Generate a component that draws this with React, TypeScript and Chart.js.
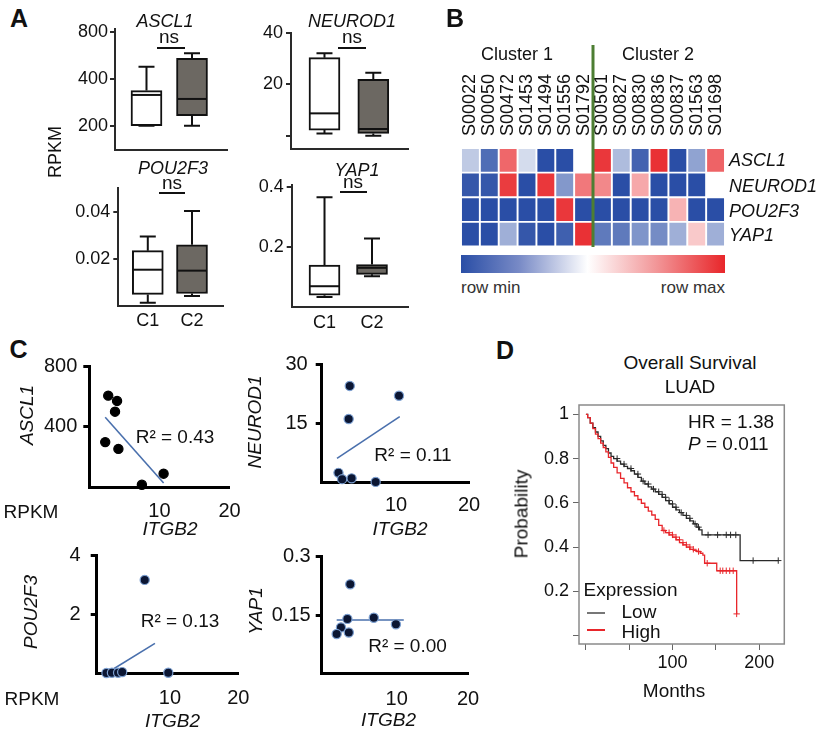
import React, { useEffect, useRef } from "react";
import { Chart, registerables } from "chart.js";
Chart.register(...registerables);

const FONT = "'Liberation Sans', Arial, Helvetica, sans-serif";
Chart.defaults.font.family = FONT;
Chart.defaults.color = "#111";

// ---------------- Panel A: box plots ([min, q1, median, q3, max]) ----------------
const groupLabels = ["C1", "C2"];
const ascl1Box = [[200, 200, 315, 336, 478], [200, 232, 297, 541, 582]];
const neurod1Box = [[0.9, 2.2, 8.7, 30.4, 32.1], [0, 0.9, 2.6, 22, 24.5]];
const pou2f3Box = [[0.0013, 0.0048, 0.0153, 0.0234, 0.0294], [0.0041, 0.0052, 0.0149, 0.0259, 0.0403]];
const yap1Box = [[0.031, 0.037, 0.067, 0.138, 0.367], [0.101, 0.107, 0.129, 0.14, 0.228]];
const ascl1BoxTicks = [200, 400, 800];
const neurod1BoxTicks = [0, 20, 40];
const pou2f3BoxTicks = [0.02, 0.04];
const yap1BoxTicks = [0.2, 0.4];
const boxFills = ["#ffffff", "#6c6862"];

// ---------------- Panel B: heatmap (row-scaled, -1 = row min, 1 = row max) ----------------
const samples = ["S00022", "S00050", "S00472", "S01453", "S01494", "S01556", "S01792", "S00501", "S00827", "S00830", "S00836", "S00837", "S01563", "S01698"];
const genes = ["ASCL1", "NEUROD1", "POU2F3", "YAP1"];
const heatASCL1 = [-0.3, -0.82, 0.7, -0.2, -1, -1, 0, 0.92, -0.38, -0.88, 0.95, -1, -0.52, 0.72];
const heatNEUROD1 = [-0.95, -0.95, 0.9, -1, 0.92, -0.58, 0.62, 0.55, -1, 0.4, -1, -1, -1, 0];
const heatPOU2F3 = [-1, -1, -1, -1, -1, 0.92, -1, -1, -1, -1, -1, 0.35, -1, -1];
const heatYAP1 = [-1, -1, -0.45, -0.95, -1, -0.9, 0.95, -0.75, -0.75, -0.6, -0.65, -0.45, 0.25, -0.45];

// ---------------- Panel C: scatter (ITGB2 vs gene RPKM) ----------------
const ascl1ItgB2 = [2.7, 3.96, 3.67, 2.27, 4.15, 7.5, 10.6];
const ascl1Rpkm = [604, 569, 498, 297, 252, 15, 88];
const ascl1FitX = [2.27, 10.6];
const ascl1FitY = [461, 26];

const neurod1ItgB2 = [3.65, 10.4, 3.5, 2.1, 2.6, 3.9, 7.2];
const neurod1Rpkm = [24.5, 22, 16.1, 2.4, 0.8, 1.0, 0.1];
const neurod1FitX = [1.9, 10.5];
const neurod1FitY = [6.1, 16.7];

const pou2f3ItgB2 = [6.3, 0.7, 1.5, 2.4, 3.0, 9.75];
const pou2f3Rpkm = [3.16, 0.02, 0.03, 0.03, 0.05, 0.03];
const pou2f3FitX = [0.7, 7.8];
const pou2f3FitY = [0.01, 1.02];

const yap1ItgB2 = [3.5, 3.1, 6.8, 9.9, 2.2, 1.6, 3.3];
const yap1Rpkm = [0.229, 0.14, 0.143, 0.126, 0.118, 0.101, 0.105];
const yap1FitX = [1.6, 11.0];
const yap1FitY = [0.137, 0.137];

const ascl1SctTicks = [400, 800];
const neurod1SctTicks = [15, 30];
const pou2f3SctTicks = [2, 4];
const yap1SctTicks = [0.15, 0.3];
const itgb2Ticks = [10, 20];

// ---------------- Panel D: Kaplan-Meier (months, probability) ----------------
const lowMonths = [0, 2, 5, 8, 11, 14, 17, 20, 23, 26, 29, 32, 36, 40, 44, 48, 52, 56, 60, 64, 68, 72, 76, 80, 84, 88, 92, 96, 100, 104, 108, 112, 116, 120, 124, 128, 131, 134, 178, 222];
const lowProb = [1, 0.985, 0.96, 0.94, 0.92, 0.9, 0.88, 0.86, 0.845, 0.825, 0.81, 0.8, 0.788, 0.775, 0.765, 0.755, 0.745, 0.73, 0.715, 0.698, 0.685, 0.672, 0.662, 0.65, 0.638, 0.625, 0.61, 0.595, 0.58, 0.568, 0.556, 0.543, 0.53, 0.518, 0.505, 0.49, 0.478, 0.455, 0.339, 0.339];
const highMonths = [0, 2, 5, 8, 11, 14, 17, 20, 23, 26, 29, 32, 36, 40, 44, 48, 52, 56, 60, 64, 68, 72, 76, 80, 84, 88, 92, 96, 100, 104, 108, 112, 116, 120, 124, 128, 132, 135, 137, 151, 174];
const highProb = [1, 0.985, 0.96, 0.935, 0.91, 0.89, 0.87, 0.85, 0.83, 0.805, 0.78, 0.76, 0.735, 0.71, 0.69, 0.668, 0.65, 0.632, 0.615, 0.598, 0.58, 0.562, 0.545, 0.525, 0.498, 0.475, 0.465, 0.455, 0.445, 0.433, 0.42, 0.41, 0.4, 0.39, 0.385, 0.38, 0.372, 0.364, 0.327, 0.293, 0.098];
const lowCensorMonths = [36, 44, 52, 60, 66, 72, 78, 84, 88, 92, 96, 100, 104, 110, 116, 120, 126, 130, 141, 152, 162, 167, 173, 193, 222];
const lowCensorProb = [0.8, 0.775, 0.755, 0.73, 0.698, 0.685, 0.662, 0.65, 0.638, 0.625, 0.61, 0.595, 0.58, 0.556, 0.543, 0.53, 0.505, 0.49, 0.455, 0.455, 0.455, 0.455, 0.455, 0.339, 0.339];
const highCensorMonths = [90, 96, 100, 104, 108, 112, 116, 120, 124, 130, 140, 155, 158, 162, 166, 170, 174];
const highCensorProb = [0.475, 0.465, 0.455, 0.445, 0.433, 0.42, 0.41, 0.4, 0.39, 0.38, 0.327, 0.293, 0.293, 0.293, 0.293, 0.293, 0.098];
const monthTicks = [0, 50, 100, 150, 200];
const probTicks = [0, 0.2, 0.4, 0.6, 0.8, 1];

// ---------------- helpers ----------------
type Rect = { x: number; y: number; w: number; h: number };
type Plot = { l: number; t: number; r: number; b: number };

function frame(rect: Rect, plot: Plot) {
  return { yW: plot.l - rect.x, xH: rect.y + rect.h - plot.b, top: plot.t - rect.y, right: rect.x + rect.w - plot.r, left: plot.l - rect.x, bottom: rect.y + rect.h - plot.b };
}
const zeroPad = (s: any) => { s.paddingLeft = 0; s.paddingRight = 0; s.paddingTop = 0; s.paddingBottom = 0; };
const setTicks = (vals: number[]) => (s: any) => { s.ticks = vals.map((v) => ({ value: v })); };
const zip = (xs: number[], ys: number[]) => xs.map((x, i) => ({ x, y: ys[i] }));

function whiskerPlugin(stats: number[][]) {
  return {
    id: "whiskers",
    beforeDatasetsDraw(chart: any) {
      const { ctx } = chart;
      const xs = chart.scales.x, ys = chart.scales.y;
      ctx.save();
      ctx.strokeStyle = "#111";
      ctx.lineWidth = 2;
      stats.forEach((s, i) => {
        const cx = xs.getPixelForValue(i + 1);
        const p = (v: number) => ys.getPixelForValue(v);
        ctx.beginPath();
        ctx.moveTo(cx, p(s[4])); ctx.lineTo(cx, p(s[3]));
        ctx.moveTo(cx, p(s[1])); ctx.lineTo(cx, p(s[0]));
        ctx.moveTo(cx - 8, p(s[4])); ctx.lineTo(cx + 8, p(s[4]));
        ctx.moveTo(cx - 8, p(s[0])); ctx.lineTo(cx + 8, p(s[0]));
        ctx.stroke();
      });
      ctx.restore();
    },
    afterDatasetsDraw(chart: any) {
      const { ctx } = chart;
      const xs = chart.scales.x, ys = chart.scales.y;
      ctx.save();
      ctx.strokeStyle = "#111";
      ctx.lineWidth = 2;
      stats.forEach((s, i) => {
        const cx = xs.getPixelForValue(i + 1);
        const y = ys.getPixelForValue(s[2]);
        ctx.beginPath();
        ctx.moveTo(cx - 15, y); ctx.lineTo(cx + 15, y);
        ctx.stroke();
      });
      ctx.restore();
    },
  };
}

function boxConfig(rect: Rect, plot: Plot, stats: number[][], yType: string, yMin: number, yMax: number, yTicks: number[], yFmt: (v: number) => string, xMin: number, xMax: number, showX: boolean, yPad: number) {
  const f = frame(rect, plot);
  return {
    type: "bar",
    data: {
      datasets: [{
        data: stats.map((s, i) => ({ x: i + 1, y: [s[1], s[3]] })),
        backgroundColor: boxFills,
        borderColor: "#111",
        borderWidth: 2,
        borderSkipped: false,
        barThickness: 31,
      }],
    },
    options: {
      responsive: false, animation: false, events: [],
      layout: { padding: { top: f.top, right: f.right, left: 0, bottom: 0 } },
      plugins: { legend: { display: false }, tooltip: { enabled: false } },
      scales: {
        x: {
          type: "linear", min: xMin, max: xMax, offset: false,
          afterBuildTicks: setTicks([1, 2]),
          ticks: { display: showX, callback: (v: number) => groupLabels[v - 1] ?? "", font: { size: 18 }, padding: 5, color: "#111" },
          grid: { display: false, drawTicks: false, offset: false },
          border: { display: true, color: "#2a2a2a", width: 2 },
          afterFit: (s: any) => { s.height = f.xH; zeroPad(s); },
        },
        y: {
          type: yType, min: yMin, max: yMax,
          afterBuildTicks: setTicks(yTicks),
          ticks: { callback: yFmt, font: { size: 18 }, padding: yPad, color: "#111" },
          grid: { display: true, drawOnChartArea: false, drawTicks: true, tickLength: 5, color: "#2a2a2a", lineWidth: 2 },
          border: { display: true, color: "#2a2a2a", width: 2 },
          afterFit: (s: any) => { s.width = f.yW; zeroPad(s); },
        },
      },
    },
    plugins: [whiskerPlugin(stats)],
  };
}

function scatterConfig(rect: Rect, plot: Plot, xs: number[], ys: number[], fx: number[], fy: number[], yMax: number, yTicks: number[], xMin: number, xMax: number, dotFill: string, dotBorder: string, yPad: number, xPad: number) {
  const f = frame(rect, plot);
  return {
    type: "scatter",
    data: {
      datasets: [
        { data: zip(xs, ys), pointRadius: 4.6, pointBackgroundColor: dotFill, pointBorderColor: dotBorder, pointBorderWidth: 1.2, clip: false },
        { data: zip(fx, fy), showLine: true, borderColor: "#4a70ad", borderWidth: 1.6, pointRadius: 0, clip: false },
      ],
    },
    options: {
      responsive: false, animation: false, events: [],
      layout: { padding: { top: f.top, right: f.right, left: 0, bottom: 0 } },
      plugins: { legend: { display: false }, tooltip: { enabled: false } },
      scales: {
        x: {
          type: "linear", min: xMin, max: xMax,
          afterBuildTicks: setTicks(itgb2Ticks),
          ticks: { callback: (v: number) => String(v), font: { size: 20 }, padding: xPad, color: "#111" },
          grid: { display: false, drawTicks: false },
          border: { display: true, color: "#000", width: 3 },
          afterFit: (s: any) => { s.height = f.xH; zeroPad(s); },
        },
        y: {
          type: "linear", min: 0, max: yMax,
          afterBuildTicks: setTicks(yTicks),
          ticks: { callback: (v: number) => String(v), font: { size: 20 }, padding: yPad, color: "#111" },
          grid: { display: true, drawOnChartArea: false, drawTicks: true, tickLength: 6, color: "#000", lineWidth: 3 },
          border: { display: true, color: "#000", width: 3 },
          afterFit: (s: any) => { s.width = f.yW; zeroPad(s); },
        },
      },
    },
  };
}

const BLUE = [42, 78, 166];
const RED = [232, 38, 42];
function heatColor(v: number) {
  const c = v < 0 ? BLUE : RED;
  const t = Math.min(1, Math.abs(v));
  const m = (k: number) => Math.round(255 + (c[k] - 255) * t);
  return `rgb(${m(0)},${m(1)},${m(2)})`;
}

function heatConfig(rect: Rect, plot: Plot) {
  const f = frame(rect, plot);
  const rows = [heatASCL1, heatNEUROD1, heatPOU2F3, heatYAP1];
  const bottomFirst = rows.map((r, i) => ({ gene: genes[i], vals: r })).reverse();
  const divider = {
    id: "divider",
    afterDatasetsDraw(chart: any) {
      const { ctx, chartArea } = chart;
      const x = chart.scales.x.getPixelForValue(6.5);
      ctx.save();
      ctx.strokeStyle = "#4d7e33";
      ctx.lineWidth = 3;
      ctx.beginPath();
      ctx.moveTo(x, 5);
      ctx.lineTo(x, chartArea.bottom + 0.5);
      ctx.stroke();
      ctx.restore();
    },
  };
  return {
    type: "bar",
    data: {
      labels: samples,
      datasets: bottomFirst.map((r) => ({
        label: r.gene,
        data: r.vals.map(() => 1),
        backgroundColor: r.vals.map(heatColor),
        borderColor: "#ffffff",
        borderWidth: 1.3,
        borderSkipped: false,
        barPercentage: 1,
        categoryPercentage: 1,
        stack: "h",
      })),
    },
    options: {
      responsive: false, animation: false, events: [],
      layout: { padding: { top: 0, right: f.right, left: f.left, bottom: f.bottom } },
      plugins: { legend: { display: false }, tooltip: { enabled: false } },
      scales: {
        x: {
          position: "top", stacked: true,
          ticks: { autoSkip: false, minRotation: 90, maxRotation: 90, font: { size: 18 }, padding: 12, labelOffset: 21.6, color: "#111" },
          grid: { display: false, drawTicks: false },
          border: { display: false },
          afterFit: (s: any) => { s.height = plot.t - rect.y; zeroPad(s); },
        },
        y: { display: false, stacked: true, min: 0, max: 4 },
      },
    },
    plugins: [divider],
  };
}

function kmConfig(rect: Rect, plot: Plot) {
  const f = frame(rect, plot);
  const boxPlugin = {
    id: "kmBox",
    beforeDatasetsDraw(chart: any) {
      const { ctx, chartArea: a } = chart;
      ctx.save();
      ctx.strokeStyle = "#8a8a8a";
      ctx.lineWidth = 1.5;
      ctx.strokeRect(a.left, a.top, a.right - a.left, a.bottom - a.top);
      ctx.restore();
    },
  };
  const red = "#e8262b", dark = "#2a2a2a";
  return {
    type: "line",
    data: {
      datasets: [
        { data: zip(highCensorMonths, highCensorProb), showLine: false, pointStyle: "cross", pointRadius: 3.2, borderColor: red, pointBorderColor: red, pointBorderWidth: 1, clip: false },
        { data: zip(highMonths, highProb), stepped: "before", borderColor: red, borderWidth: 1.3, pointRadius: 0, clip: false },
        { data: zip(lowCensorMonths, lowCensorProb), showLine: false, pointStyle: "cross", pointRadius: 3.2, borderColor: dark, pointBorderColor: dark, pointBorderWidth: 1, clip: false },
        { data: zip(lowMonths, lowProb), stepped: "before", borderColor: dark, borderWidth: 1.3, pointRadius: 0, clip: false },
      ],
    },
    options: {
      responsive: false, animation: false, events: [],
      layout: { padding: { top: f.top, right: f.right, left: 0, bottom: 0 } },
      plugins: { legend: { display: false }, tooltip: { enabled: false } },
      scales: {
        x: {
          type: "linear", min: -8, max: 229,
          afterBuildTicks: setTicks(monthTicks),
          ticks: { callback: (v: number) => (v === 100 || v === 200 ? String(v) : ""), font: { size: 18 }, padding: 2, color: "#111" },
          grid: { display: true, drawOnChartArea: false, drawTicks: true, tickLength: 6, color: "#666", lineWidth: 1 },
          border: { display: false },
          afterFit: (s: any) => { s.height = f.xH; zeroPad(s); },
        },
        y: {
          type: "linear", min: -0.038, max: 1.042,
          afterBuildTicks: setTicks(probTicks),
          ticks: { callback: (v: number) => (v === 0 ? "" : v === 1 ? "1" : v.toFixed(1)), font: { size: 18 }, padding: 4, color: "#111" },
          grid: { display: true, drawOnChartArea: false, drawTicks: true, tickLength: 6, color: "#666", lineWidth: 1 },
          border: { display: false },
          afterFit: (s: any) => { s.width = f.yW; zeroPad(s); },
        },
      },
    },
    plugins: [boxPlugin],
  };
}

function ChartCanvas({ rect, make }: { rect: Rect; make: () => any }) {
  const ref = useRef<HTMLCanvasElement>(null);
  useEffect(() => {
    const chart = new Chart(ref.current as HTMLCanvasElement, make());
    return () => chart.destroy();
  }, []);
  return <canvas ref={ref} width={rect.w} height={rect.h} style={{ position: "absolute", left: rect.x, top: rect.y, width: rect.w, height: rect.h }} />;
}

type TP = { x: number; y: number; s?: number; it?: boolean; b?: boolean; rot?: boolean; a?: "c" | "l" | "r"; c?: string; children: React.ReactNode };
function T({ x, y, s = 18, it, b, rot, a = "c", c = "#111", children }: TP) {
  const tx = a === "c" ? "-50%" : a === "l" ? "0" : "-100%";
  return (
    <div style={{ position: "absolute", left: x, top: y, fontSize: s, fontStyle: it ? "italic" : "normal", fontWeight: b ? "bold" : "normal", lineHeight: 1, whiteSpace: "nowrap", color: c, fontFamily: FONT, transform: `translate(${tx},-50%)${rot ? " rotate(-90deg)" : ""}` }}>
      {children}
    </div>
  );
}
function HLine({ x1, x2, y, c = "#111", w = 2 }: { x1: number; x2: number; y: number; c?: string; w?: number }) {
  return <div style={{ position: "absolute", left: x1, top: y - w / 2, width: x2 - x1, height: w, background: c }} />;
}

// chart rectangles (canvas) and plot areas
const rA1: Rect = { x: 60, y: 10, w: 175, h: 150 }; const pA1: Plot = { l: 115, t: 29, r: 227, b: 150 };
const rA2: Rect = { x: 240, y: 10, w: 175, h: 150 }; const pA2: Plot = { l: 291, t: 33, r: 408, b: 149.3 };
const rA3: Rect = { x: 60, y: 175, w: 170, h: 160 }; const pA3: Plot = { l: 118.3, t: 188.3, r: 223, b: 305.7 };
const rA4: Rect = { x: 240, y: 175, w: 175, h: 160 }; const pA4: Plot = { l: 291.7, t: 185, r: 408, b: 307 };
const rB: Rect = { x: 455, y: 40, w: 275, h: 215 }; const pB: Plot = { l: 461, t: 148, r: 725, b: 246.5 };
const rC1: Rect = { x: 30, y: 350, w: 210, h: 175 }; const pC1: Plot = { l: 89.3, t: 366, r: 229.5, b: 487 };
const rC2: Rect = { x: 270, y: 350, w: 210, h: 175 }; const pC2: Plot = { l: 321.7, t: 364.3, r: 469, b: 482.3 };
const rC3: Rect = { x: 40, y: 540, w: 210, h: 175 }; const pC3: Plot = { l: 96.7, t: 555, r: 238.3, b: 673.6 };
const rC4: Rect = { x: 270, y: 540, w: 210, h: 175 }; const pC4: Plot = { l: 321.7, t: 556.7, r: 468, b: 673.3 };
const rD: Rect = { x: 500, y: 395, w: 324, h: 290 }; const pD: Plot = { l: 579, t: 405, r: 784.3, b: 644 };

const fmtPlain = (v: number) => (v === 0 ? "" : String(v));

export default function App() {
  return (
    <div style={{ position: "absolute", left: 0, top: 0, width: 824, height: 731, background: "#fff", overflow: "hidden", fontFamily: FONT }}>
      {/* Panel A */}
      <ChartCanvas rect={rA1} make={() => boxConfig(rA1, pA1, ascl1Box, "logarithmic", 140, 832, ascl1BoxTicks, fmtPlain, 0.308, 2.769, false, 2)} />
      <ChartCanvas rect={rA2} make={() => boxConfig(rA2, pA2, neurod1Box, "linear", -5.3, 40, neurod1BoxTicks, fmtPlain, 0.314, 2.711, false, 3)} />
      <ChartCanvas rect={rA3} make={() => boxConfig(rA3, pA3, pou2f3Box, "linear", 0, 0.0499, pou2f3BoxTicks, fmtPlain, 0.333, 2.701, true, 3)} />
      <ChartCanvas rect={rA4} make={() => boxConfig(rA4, pA4, yap1Box, "linear", -0.003, 0.408, yap1BoxTicks, fmtPlain, 0.309, 2.758, true, 3)} />
      <T x={19} y={18} s={25} b>A</T>
      <T x={165} y={21} it>ASCL1</T>
      <T x={169} y={36} s={19}>ns</T>
      <HLine x1={157} x2={185} y={48.3} />
      <T x={352} y={21} it>NEUROD1</T>
      <T x={352} y={36} s={19}>ns</T>
      <HLine x1={338} x2={366} y={48.3} />
      <T x={54.5} y={151.5} rot>RPKM</T>
      <T x={173} y={168} it>POU2F3</T>
      <T x={172} y={181.5} s={19}>ns</T>
      <HLine x1={159} x2={185} y={193.3} />
      <T x={357} y={170} it>YAP1</T>
      <T x={353} y={180.5} s={19}>ns</T>
      <HLine x1={340} x2={367} y={192.3} />

      {/* Panel B */}
      <ChartCanvas rect={rB} make={() => heatConfig(rB, pB)} />
      <T x={455} y={18} s={25} b>B</T>
      <T x={517} y={53.5}>Cluster 1</T>
      <T x={658} y={53.5}>Cluster 2</T>
      <T x={729} y={160} it a="l">ASCL1</T>
      <T x={729} y={185.5} it a="l">NEUROD1</T>
      <T x={729} y={210.5} it a="l">POU2F3</T>
      <T x={729} y={235} it a="l">YAP1</T>
      <div style={{ position: "absolute", left: 461, top: 255, width: 264, height: 17.5, background: "linear-gradient(to right, rgb(42,78,166) 0%, rgb(120,138,198) 22%, #ffffff 48%, rgb(242,150,152) 74%, rgb(232,38,42) 100%)" }} />
      <T x={461} y={287} s={17} a="l" c="#333">row min</T>
      <T x={725} y={287} s={17} a="r" c="#333">row max</T>

      {/* Panel C */}
      <ChartCanvas rect={rC1} make={() => scatterConfig(rC1, pC1, ascl1ItgB2, ascl1Rpkm, ascl1FitX, ascl1FitY, 800, ascl1SctTicks, 0, 20, "#000", "#000", 6, 12)} />
      <ChartCanvas rect={rC2} make={() => scatterConfig(rC2, pC2, neurod1ItgB2, neurod1Rpkm, neurod1FitX, neurod1FitY, 30, neurod1SctTicks, -0.2, 20, "#0b1633", "#7c9fd0", 8, 11)} />
      <ChartCanvas rect={rC3} make={() => scatterConfig(rC3, pC3, pou2f3ItgB2, pou2f3Rpkm, pou2f3FitX, pou2f3FitY, 4, pou2f3SctTicks, -0.73, 20, "#0b1633", "#7c9fd0", 10, 13)} />
      <ChartCanvas rect={rC4} make={() => scatterConfig(rC4, pC4, yap1ItgB2, yap1Rpkm, yap1FitX, yap1FitY, 0.3, yap1SctTicks, -0.5, 20, "#0b1633", "#7c9fd0", 5, 14)} />
      <T x={18.5} y={348.5} s={25} b>C</T>
      <T x={25.5} y={415} s={19} it rot>ASCL1</T>
      <T x={175} y={436} s={19}>R² = 0.43</T>
      <T x={31} y={511} s={19}>RPKM</T>
      <T x={170} y={528} s={19} it>ITGB2</T>
      <T x={254} y={422} s={19} it rot>NEUROD1</T>
      <T x={413} y={453.5} s={19}>R² = 0.11</T>
      <T x={400} y={528} s={19} it>ITGB2</T>
      <T x={29.5} y={612} s={19} it rot>POU2F3</T>
      <T x={180} y={620} s={19}>R² = 0.13</T>
      <T x={32} y={697.5} s={19}>RPKM</T>
      <T x={172.5} y={719.5} s={19} it>ITGB2</T>
      <T x={255} y={610.5} s={19} it rot>YAP1</T>
      <T x={407.5} y={644.5} s={19}>R² = 0.00</T>
      <T x={388.5} y={719} s={19} it>ITGB2</T>

      {/* Panel D */}
      <ChartCanvas rect={rD} make={() => kmConfig(rD, pD)} />
      <T x={505} y={350} s={25} b>D</T>
      <T x={690} y={361.5} s={19}>Overall Survival</T>
      <T x={690} y={385.5} s={19}>LUAD</T>
      <T x={688} y={420.5} s={19} a="l">HR = 1.38</T>
      <T x={688} y={443} s={19} a="l"><span style={{ fontStyle: "italic" }}>P</span> = 0.011</T>
      <T x={520.5} y={514} s={19} rot>Probability</T>
      <T x={674} y={689.5} s={19}>Months</T>
      <T x={583.5} y={589} s={19} a="l">Expression</T>
      <T x={621.5} y={610.5} s={19} a="l">Low</T>
      <T x={621.5} y={630.5} s={19} a="l">High</T>
      <HLine x1={587} x2={605} y={613} c="#777" w={1.5} />
      <HLine x1={587} x2={605} y={630} c="#e8262b" w={1.5} />
    </div>
  );
}
